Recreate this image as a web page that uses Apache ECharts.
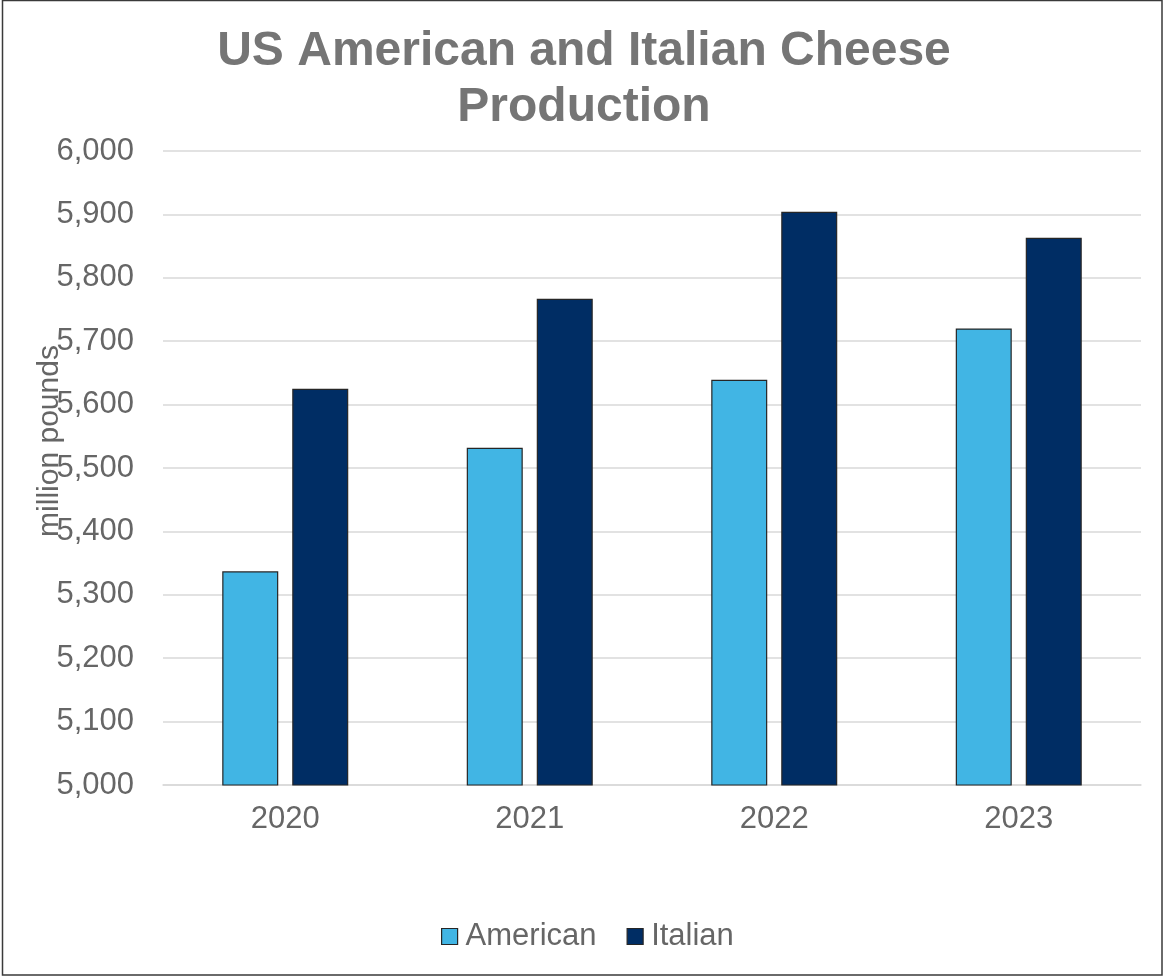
<!DOCTYPE html>
<html>
<head>
<meta charset="utf-8">
<title>US American and Italian Cheese Production</title>
<script src="https://cdn.jsdelivr.net/npm/echarts@6/dist/echarts.min.js"></script>
<style>
  html, body { margin: 0; padding: 0; background: #ffffff; }
  #chart { width: 1163px; height: 976px; }
</style>
</head>
<body>
<div id="chart"></div>
<script>
// Production in million pounds, by year
const years = ['2020', '2021', '2022', '2023'];
const american = [5337, 5532, 5639, 5720];
const italian = [5625, 5767, 5904, 5863];
const seriesNames = ['American', 'Italian'];

const FONT = '"Liberation Sans", Arial, sans-serif';
const TEXT_GRAY = '#666666';
const GRID_GRAY = '#d9d9d9';

const chart = echarts.init(document.getElementById('chart'), null, { renderer: 'canvas' });

chart.setOption({
  backgroundColor: '#ffffff',
  animation: false,
  title: {
    text: 'US American and Italian Cheese\nProduction',
    left: 584,
    top: 24,
    padding: 0,
    textAlign: 'center',
    textStyle: {
      fontFamily: FONT,
      fontSize: 48,
      fontWeight: 'bold',
      color: '#757575',
      lineHeight: 56
    }
  },
  legend: {
    data: seriesNames,
    left: 441,
    top: 921,
    padding: 0,
    itemWidth: 16,
    itemHeight: 16,
    itemGap: 30,
    icon: 'rect',
    itemStyle: { borderColor: '#262626', borderWidth: 1.2 },
    textStyle: {
      fontFamily: FONT,
      fontSize: 31,
      color: TEXT_GRAY,
      padding: [0, 0, 0, 3]
    }
  },
  grid: {
    left: 163,
    right: 22,
    top: 151,
    bottom: 191,
    containLabel: false
  },
  xAxis: {
    type: 'category',
    data: years,
    axisLine: { show: true, lineStyle: { color: GRID_GRAY, width: 1.5 } },
    axisTick: { show: false },
    axisLabel: {
      fontFamily: FONT,
      fontSize: 31,
      color: TEXT_GRAY,
      margin: 19
    }
  },
  yAxis: {
    type: 'value',
    min: 5000,
    max: 6000,
    interval: 100,
    axisLine: { show: false },
    axisTick: { show: false },
    splitLine: { lineStyle: { color: GRID_GRAY, width: 1.5 } },
    axisLabel: {
      fontFamily: FONT,
      fontSize: 31,
      color: TEXT_GRAY,
      margin: 29,
      formatter: v => v.toLocaleString('en-US')
    }
  },
  series: [
    {
      name: seriesNames[0],
      type: 'bar',
      data: american,
      barWidth: 56,
      barGap: '25%',
      itemStyle: { color: '#41b5e4', borderColor: '#262626', borderWidth: 1.2 }
    },
    {
      name: seriesNames[1],
      type: 'bar',
      data: italian,
      barWidth: 56,
      barGap: '25%',
      itemStyle: { color: '#002d64', borderColor: '#262626', borderWidth: 1.2 }
    }
  ],
  graphic: [
    {
      type: 'text',
      x: 50,
      y: 441,
      rotation: Math.PI / 2,
      style: {
        text: 'million pounds',
        fontFamily: FONT,
        fontSize: 30,
        fill: TEXT_GRAY,
        align: 'center',
        verticalAlign: 'middle'
      }
    },
    {
      type: 'rect',
      shape: { x: 2.5, y: 0.5, width: 1159.5, height: 974.5 },
      style: { fill: null, stroke: '#3a3a3a', lineWidth: 1.5 },
      silent: true
    }
  ]
});
</script>
</body>
</html>
